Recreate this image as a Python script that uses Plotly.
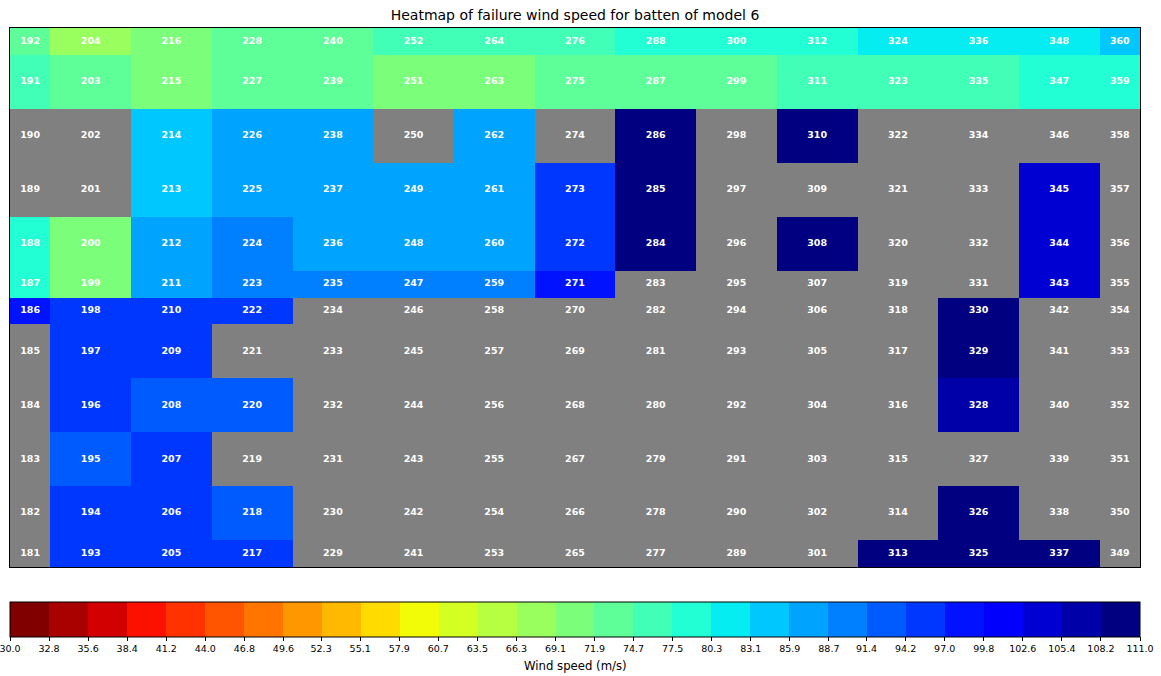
import numpy as np
import plotly.graph_objects as go

# ---------------- data ----------------
title_text = "Heatmap of failure wind speed for batten of model 6"
colorbar_title = "Wind speed (m/s)"
first_panel_id = 181          # panel numbers run bottom->top, then left->right

# cell edges (batten grid: half-size edge rows/columns)
col_edges = [0, 0.5, 1.5, 2.5, 3.5, 4.5, 5.5, 6.5, 7.5, 8.5, 9.5, 10.5, 11.5, 12.5, 13.5, 14]
row_edges = [0, 0.5, 1.5, 2.5, 3.5, 4.5, 5.0, 5.5, 6.5, 7.5, 8.5, 9.5, 10]

# failure wind speed (m/s); None = no failure (grey)
# columns: panels 181.., 193.., 205.., ..., 349..
row_01 = [None, 95.6, 95.6, 95.6, None, None, None, None, None, None, None, 109.6, 109.6, 109.6, None]
row_02 = [None, 95.6, 95.6, 92.8, None, None, None, None, None, None, None, None, 109.6, None, None]
row_03 = [None, 92.8, 95.6, None, None, None, None, None, None, None, None, None, None, None, None]
row_04 = [None, 95.6, 92.8, 92.8, None, None, None, None, None, None, None, None, 106.8, None, None]
row_05 = [None, 95.6, 95.6, None, None, None, None, None, None, None, None, None, 109.6, None, None]
row_06 = [98.4, 95.6, 95.6, 95.6, None, None, None, None, None, None, None, None, 109.6, None, None]
row_07 = [78.9, 70.5, 87.3, 90.0, 90.0, 90.0, 90.0, 98.4, None, None, None, None, None, 104.0, None]
row_08 = [78.9, 70.5, 87.3, 90.0, 87.3, 87.3, 87.3, 95.6, 109.6, None, 109.6, None, None, 104.0, None]
row_09 = [None, None, 84.5, 87.3, 87.3, 87.3, 87.3, 95.6, 109.6, None, None, None, None, 104.0, None]
row_10 = [None, None, 84.5, 87.3, 87.3, None, 87.3, None, 109.6, None, 109.6, None, None, None, None]
row_11 = [76.1, 73.3, 70.5, 73.3, 73.3, 70.5, 70.5, 73.3, 73.3, 73.3, 76.1, 76.1, 76.1, 78.9, 78.9]
row_12 = [73.3, 67.7, 70.5, 73.3, 73.3, 76.1, 76.1, 76.1, 78.9, 78.9, 78.9, 81.7, 81.7, 81.7, 84.5]

cbar_ticks = [30.0, 32.8, 35.6, 38.4, 41.2, 44.0, 46.8, 49.6, 52.3, 55.1, 57.9, 60.7, 63.5, 66.3, 69.1,
              71.9, 74.7, 77.5, 80.3, 83.1, 85.9, 88.7, 91.4, 94.2, 97.0, 99.8, 102.6, 105.4, 108.2, 111.0]

z = [row_01, row_02, row_03, row_04, row_05, row_06,
     row_07, row_08, row_09, row_10, row_11, row_12]
n_rows = len(z)
n_cols = len(z[0])
zmin, zmax = cbar_ticks[0], cbar_ticks[-1]
n_bins = len(cbar_ticks) - 1

# ---------------- discrete reversed jet colormap ----------------
def jet(v):
    r = np.interp(v, [0, 0.35, 0.66, 0.89, 1], [0, 0, 1, 1, 0.5])
    g = np.interp(v, [0, 0.125, 0.375, 0.64, 0.91, 1], [0, 0, 1, 1, 0, 0])
    b = np.interp(v, [0, 0.11, 0.34, 0.65, 1], [0.5, 1, 1, 0, 0])
    return "rgb(%d,%d,%d)" % (round(r * 255), round(g * 255), round(b * 255))

colorscale = []
for i in range(n_bins):
    c = jet(1 - i / (n_bins - 1))
    colorscale.append([i / n_bins, c])
    colorscale.append([(i + 1) / n_bins, c])

# ---------------- cell labels ----------------
xc = [(col_edges[j] + col_edges[j + 1]) / 2 for j in range(n_cols)]
yc = [(row_edges[i] + row_edges[i + 1]) / 2 for i in range(n_rows)]
lx, ly, lt = [], [], []
for j in range(n_cols):
    for i in range(n_rows):
        lx.append(xc[j])
        ly.append(yc[i])
        lt.append(str(first_panel_id + j * n_rows + i))

W, H = 1161, 676
PLOT_H = 539

fig = go.Figure()
fig.add_trace(go.Heatmap(
    z=z, x=col_edges, y=row_edges,
    zmin=zmin, zmax=zmax, colorscale=colorscale,
    hoverongaps=False,
    colorbar=dict(
        orientation="h", x=0.5, xanchor="center", len=1, lenmode="fraction",
        y=-35 / PLOT_H, yanchor="top", thickness=35, thicknessmode="pixels",
        xpad=0, ypad=0, outlinecolor="black", outlinewidth=1,
        tickmode="array", tickvals=cbar_ticks, ticktext=["%.1f" % t for t in cbar_ticks],
        ticks="outside", ticklen=4, tickwidth=1, tickcolor="black",
        ticklabeloverflow="allow",
        tickfont=dict(family="DejaVu Sans", size=9.5, color="black"),
    ),
))
fig.add_trace(go.Scatter(
    x=lx, y=ly, text=lt, mode="text", hoverinfo="skip", showlegend=False,
    textfont=dict(family="DejaVu Sans", size=9.5, color="white", weight="bold"),
))

fig.add_annotation(text=colorbar_title, xref="paper", yref="paper",
                   x=0.5, y=-99 / PLOT_H, xanchor="center", yanchor="middle",
                   showarrow=False,
                   font=dict(family="DejaVu Sans", size=11.7, color="black"))

fig.update_layout(
    width=W, height=H,
    margin=dict(l=10, r=21, t=28, b=H - 28 - PLOT_H),
    paper_bgcolor="white", plot_bgcolor="#808080",
    font=dict(family="DejaVu Sans", color="black"),
    title=dict(text=title_text, x=0.5, xref="paper", xanchor="center",
               y=1 - 15 / H, yanchor="middle",
               font=dict(family="DejaVu Sans", size=14, color="black")),
    showlegend=False,
)
fig.update_xaxes(range=[col_edges[0], col_edges[-1]], showticklabels=False, ticks="",
                 showgrid=False, zeroline=False, showline=True, mirror=True,
                 linecolor="black", linewidth=1)
fig.update_yaxes(range=[row_edges[0], row_edges[-1]], showticklabels=False, ticks="",
                 showgrid=False, zeroline=False, showline=True, mirror=True,
                 linecolor="black", linewidth=1)

# remove the browser's default page margin so the figure fills the window
fig.write_html("out.html",
               config={"displayModeBar": False},
               post_script="document.body.style.margin='0';document.body.style.overflow='hidden';")
